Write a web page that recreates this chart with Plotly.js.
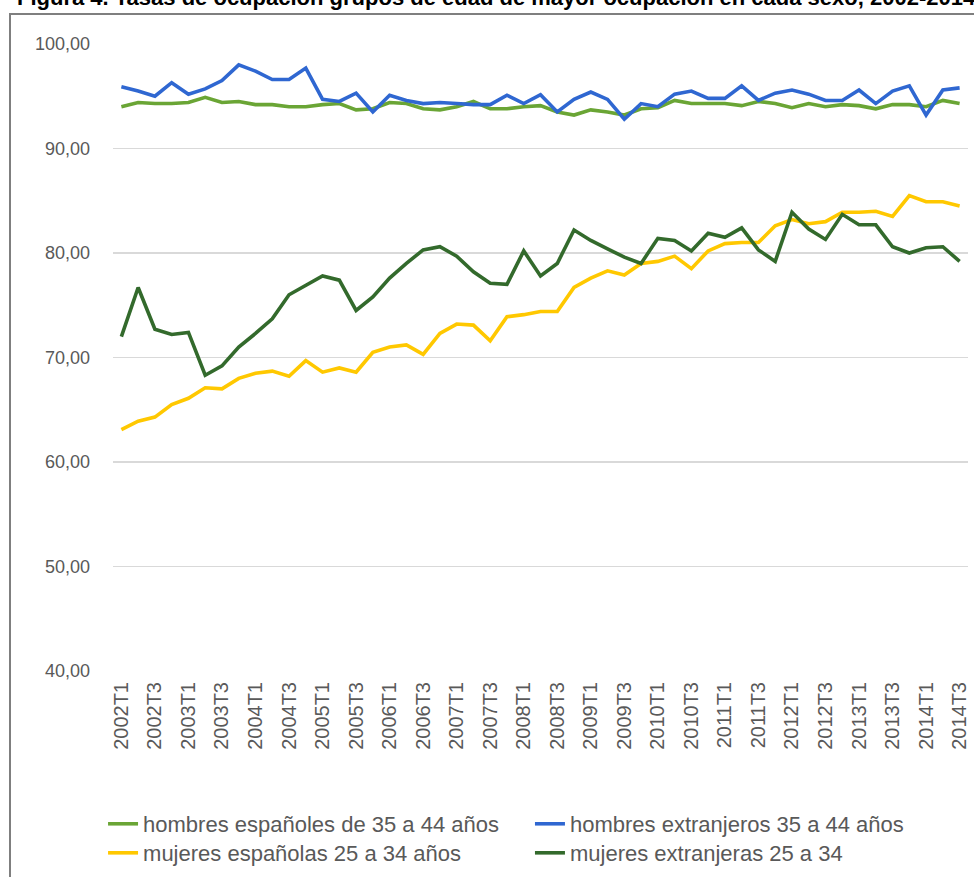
<!DOCTYPE html>
<html>
<head>
<meta charset="utf-8">
<script src="https://cdn.plot.ly/plotly-3.0.1.min.js"></script>
<style>
  html, body { margin: 0; padding: 0; background: #ffffff; }
  #wrap { position: relative; width: 974px; height: 877px; overflow: hidden; }
  #chart { position: absolute; left: 0; top: 0; width: 974px; height: 877px; }
  #frame { position: absolute; left: 9px; top: 13px; width: 980px; height: 880px;
           border-left: 2px solid #7f7f7f; border-top: 2px solid #7f7f7f; pointer-events: none; }
</style>
</head>
<body>
<div id="wrap">
  <div id="chart"></div>
  <div id="frame"></div>
</div>
<script>
// Quarters 2002T1 .. 2014T3
const quarters = [
  "2002T1","2002T2","2002T3","2002T4",
  "2003T1","2003T2","2003T3","2003T4",
  "2004T1","2004T2","2004T3","2004T4",
  "2005T1","2005T2","2005T3","2005T4",
  "2006T1","2006T2","2006T3","2006T4",
  "2007T1","2007T2","2007T3","2007T4",
  "2008T1","2008T2","2008T3","2008T4",
  "2009T1","2009T2","2009T3","2009T4",
  "2010T1","2010T2","2010T3","2010T4",
  "2011T1","2011T2","2011T3","2011T4",
  "2012T1","2012T2","2012T3","2012T4",
  "2013T1","2013T2","2013T3","2013T4",
  "2014T1","2014T2","2014T3"
];

const tickLabels = [
  "2002T1","2002T3","2003T1","2003T3","2004T1","2004T3","2005T1","2005T3",
  "2006T1","2006T3","2007T1","2007T3","2008T1","2008T3","2009T1","2009T3",
  "2010T1","2010T3","2011T1","2011T3","2012T1","2012T3","2013T1","2013T3",
  "2014T1","2014T3"
];

const seriesNames = [
  "hombres españoles de 35 a 44 años",
  "hombres extranjeros 35 a 44 años",
  "mujeres españolas 25 a 34 años",
  "mujeres extranjeras 25 a 34"
];

const titleText = "Figura 4. Tasas de ocupación grupos de edad de mayor ocupación en cada sexo, 2002-2014";

const hombresEspanoles = [
  94.0, 94.4, 94.3, 94.3, 94.4, 94.9, 94.4, 94.5, 94.2, 94.2,
  94.0, 94.0, 94.2, 94.3, 93.7, 93.8, 94.4, 94.3, 93.8, 93.7,
  94.0, 94.5, 93.8, 93.8, 94.0, 94.1, 93.5, 93.2, 93.7, 93.5,
  93.2, 93.8, 93.9, 94.6, 94.3, 94.3, 94.3, 94.1, 94.5, 94.3,
  93.9, 94.3, 94.0, 94.2, 94.1, 93.8, 94.2, 94.2, 94.0, 94.6,
  94.3
];

const hombresExtranjeros = [
  95.9, 95.5, 95.0, 96.3, 95.2, 95.7, 96.5, 98.0, 97.4, 96.6,
  96.6, 97.7, 94.7, 94.5, 95.3, 93.5, 95.1, 94.6, 94.3, 94.4,
  94.3, 94.2, 94.2, 95.1, 94.3, 95.15, 93.5, 94.7, 95.4, 94.7,
  92.8, 94.3, 94.0, 95.2, 95.5, 94.8, 94.8, 96.0, 94.6, 95.3,
  95.6, 95.2, 94.6, 94.6, 95.6, 94.3, 95.5, 96.0, 93.2, 95.6,
  95.8
];

const mujeresEspanolas = [
  63.1, 63.9, 64.3, 65.5, 66.1, 67.1, 67.0, 68.0, 68.5, 68.7,
  68.2, 69.7, 68.6, 69.0, 68.6, 70.5, 71.0, 71.2, 70.3, 72.3,
  73.2, 73.1, 71.6, 73.9, 74.1, 74.4, 74.4, 76.7, 77.6, 78.3,
  77.9, 79.0, 79.2, 79.7, 78.5, 80.2, 80.9, 81.0, 81.0, 82.6,
  83.2, 82.8, 83.0, 83.9, 83.9, 84.0, 83.5, 85.5, 84.9, 84.9,
  84.5
];

const mujeresExtranjeras = [
  72.0, 76.7, 72.7, 72.2, 72.4, 68.3, 69.2, 71.0, 72.3, 73.7,
  76.0, 76.9, 77.8, 77.4, 74.5, 75.8, 77.6, 79.0, 80.3, 80.6,
  79.7, 78.2, 77.1, 77.0, 80.2, 77.8, 79.0, 82.2, 81.2, 80.4,
  79.6, 79.0, 81.4, 81.2, 80.2, 81.9, 81.5, 82.4, 80.3, 79.2,
  83.9, 82.3, 81.3, 83.7, 82.7, 82.7, 80.6, 80.0, 80.5, 80.6,
  79.2
];

const yTicks = [40, 50, 60, 70, 80, 90, 100];

const colors = ["#6AA535", "#2F67D1", "#FFC800", "#336A2C"];
const legendIds = ["legend", "legend2", "legend3", "legend4"];
const seriesValues = [hombresEspanoles, hombresExtranjeros, mujeresEspanolas, mujeresExtranjeras];

const traces = seriesValues.map((vals, k) => ({
  type: "scatter",
  mode: "lines",
  x: quarters,
  y: vals,
  name: seriesNames[k],
  legend: legendIds[k],
  line: { color: colors[k], width: 3.6 },
  hoverinfo: "x+y+name"
}));

const legendFont = { family: "Liberation Sans, Arial, sans-serif", size: 22, color: "#595959" };

function legendBox(xPos, yPos) {
  return {
    orientation: "h",
    xref: "container", yref: "container",
    x: xPos, xanchor: "left",
    y: yPos, yanchor: "top",
    itemwidth: 30,
    font: legendFont,
    bgcolor: "rgba(0,0,0,0)"
  };
}

const layout = {
  width: 974,
  height: 877,
  separators: ",.",
  paper_bgcolor: "rgba(0,0,0,0)",
  plot_bgcolor: "rgba(0,0,0,0)",
  margin: { l: 113, r: 6, t: 44, b: 206, pad: 0 },
  font: { family: "Liberation Sans, Arial, sans-serif", color: "#595959", size: 18 },
  annotations: [{
    text: "<b>" + titleText + "</b>",
    xref: "paper", yref: "paper",
    x: -0.1146, xanchor: "left",
    y: 1.051, yanchor: "bottom",
    showarrow: false,
    font: { family: "Liberation Sans, Arial, sans-serif", size: 22, color: "#000000" }
  }],
  xaxis: {
    type: "category",
    categoryorder: "array",
    categoryarray: quarters,
    range: [-0.5, quarters.length - 0.5],
    tickmode: "array",
    tickvals: tickLabels,
    ticktext: tickLabels,
    tickangle: -90,
    ticks: "",
    showgrid: false,
    showline: false,
    zeroline: false,
    tickfont: { size: 20, color: "#595959" },
    ticklabelstandoff: 6,
    automargin: false
  },
  yaxis: {
    range: [40, 100],
    tickmode: "array",
    tickvals: yTicks,
    tickformat: ".2f",
    ticks: "",
    showgrid: true,
    gridcolor: "#D9D9D9",
    gridwidth: 1.3,
    zeroline: false,
    showline: false,
    tickfont: { size: 18, color: "#595959" },
    ticklabelstandoff: 22,
    automargin: false
  },
  showlegend: true,
  legend: legendBox(0.1058, 0.0844),
  legend2: legendBox(0.5441, 0.0844),
  legend3: legendBox(0.1058, 0.0513),
  legend4: legendBox(0.5441, 0.0513)
};

Plotly.newPlot("chart", traces, layout, { staticPlot: true, displayModeBar: false });
</script>
</body>
</html>
